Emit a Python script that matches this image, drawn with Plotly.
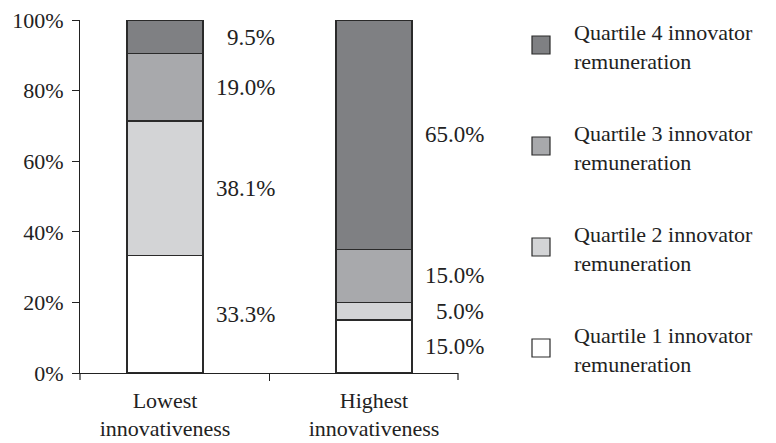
import plotly.graph_objects as go

categories = ["Lowest<br>innovativeness", "Highest<br>innovativeness"]
series_names = [
    "Quartile 1 innovator<br>remuneration",
    "Quartile 2 innovator<br>remuneration",
    "Quartile 3 innovator<br>remuneration",
    "Quartile 4 innovator<br>remuneration",
]
q1 = [33.3, 15.0]
q2 = [38.1, 5.0]
q3 = [19.0, 15.0]
q4 = [9.5, 65.0]
colors = ["#ffffff", "#d3d4d6", "#a8a9ac", "#7f8083"]

FONT = "Liberation Serif"
# page body adds an 8px margin, so draw the figure that much smaller
OFF = 8
W, H = 776 - OFF, 443 - OFF
L, T = 80 - OFF, 20 - OFF
pw, ph = 378, 353
R, B = W - L - pw, H - T - ph
series = [q1, q2, q3, q4]

fig = go.Figure()
for name, vals, col in zip(series_names, series, colors):
    fig.add_trace(go.Bar(
        x=categories, y=vals, name=name, showlegend=False,
        marker=dict(color=col, line=dict(color="#2a2a2a", width=1.2)),
        hoverinfo="skip",
    ))

# value labels to the right of each segment, at the segment middle
for j, cat in enumerate(categories):
    base = 0
    for vals in series:
        v = vals[j]
        fig.add_annotation(
            x=cat, y=base + v / 2, xref="x", yref="y",
            text="%.1f%%" % v, showarrow=False,
            xanchor="right", yanchor="middle", xshift=112,
            font=dict(family=FONT, size=23, color="#222"),
        )
        base += v

# hand-made legend (plotly's own one can't space items this far apart)
def px(x):
    return (x - OFF - L) / pw
def py(y):
    return (H - B - (y - OFF)) / ph

for k, (name, col) in enumerate(zip(series_names[::-1], colors[::-1])):
    cy = 45 + k * 101
    fig.add_shape(type="rect", xref="paper", yref="paper",
                  x0=px(532), x1=px(550), y0=py(cy - 9), y1=py(cy + 9),
                  fillcolor=col, line=dict(color="#2a2a2a", width=1.2))
    fig.add_annotation(x=px(572), y=py(cy + 2), xref="paper", yref="paper",
                       text=name, showarrow=False, align="left",
                       xanchor="left", yanchor="middle",
                       font=dict(family=FONT, size=22, color="#222"))

# end ticks of the x axis
for xe in (0, 1):
    fig.add_shape(type="line", xref="paper", yref="paper",
                  x0=xe, x1=xe, ysizemode="pixel", yanchor=0, y0=0, y1=-7,
                  line=dict(color="#222", width=1.2))

fig.update_layout(
    barmode="stack",
    bargap=0.636,
    width=W, height=H,
    margin=dict(l=L, r=R, t=T, b=B),
    plot_bgcolor="white", paper_bgcolor="white",
    font=dict(family=FONT, size=22, color="#222"),
    showlegend=False,
)
fig.update_xaxes(
    range=[-0.407, 1.402],
    showline=True, linecolor="#222", linewidth=1.2,
    ticks="outside", tickson="boundaries", ticklen=7, tickcolor="#222",
    showgrid=False, automargin=False, ticklabelstandoff=7,
)
fig.update_yaxes(
    range=[0, 100], dtick=20, ticksuffix="%",
    showline=True, linecolor="#222", linewidth=1.2,
    ticks="outside", ticklen=7, tickcolor="#222",
    showgrid=False, zeroline=False, automargin=False,
    ticklabeloverflow="allow", ticklabelstandoff=4,
)

fig.write_html("out.html")
